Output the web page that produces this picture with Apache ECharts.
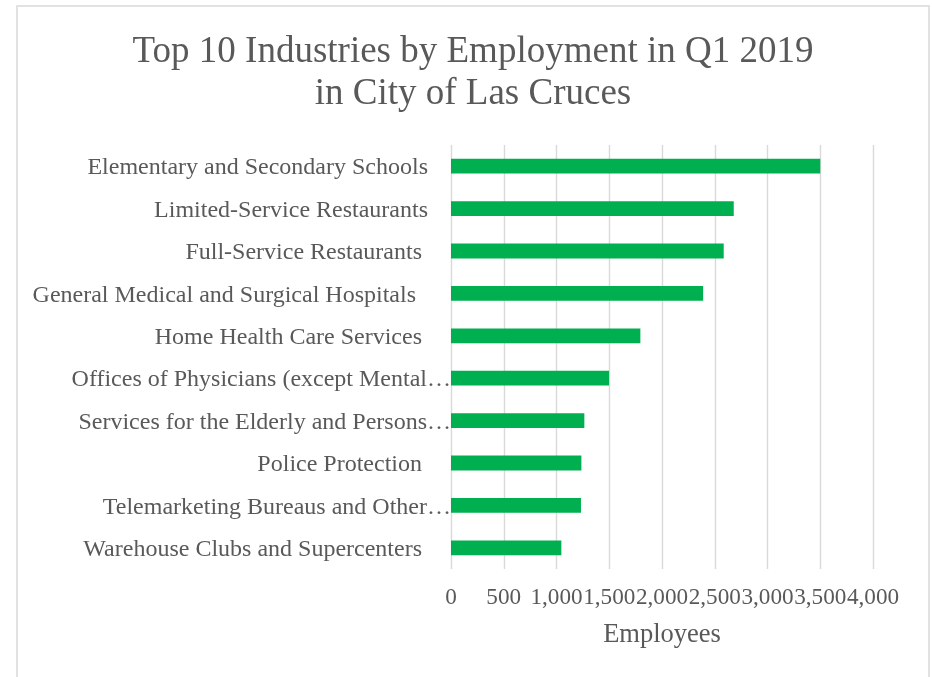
<!DOCTYPE html>
<html>
<head>
<meta charset="utf-8">
<script src="https://cdn.jsdelivr.net/npm/echarts@6/dist/echarts.min.js"></script>
<style>html,body{margin:0;padding:0;background:#fff}#c{width:932px;height:677px}</style>
</head>
<body>
<div id="c"></div>
<script>
const titleLines = ['Top 10 Industries by Employment in Q1 2019', 'in City of Las Cruces'];
const categories = [
  'Elementary and Secondary Schools',
  'Limited-Service Restaurants',
  'Full-Service Restaurants ',
  'General Medical and Surgical Hospitals  ',
  'Home Health Care Services ',
  'Offices of Physicians (except Mental\u2026',
  'Services for the Elderly and Persons\u2026',
  'Police Protection ',
  'Telemarketing Bureaus and Other\u2026',
  'Warehouse Clubs and Supercenters '
];
const employees = [3500, 2680, 2585, 2390, 1795, 1498, 1264, 1236, 1232, 1046];
const xTicks = [0, 500, 1000, 1500, 2000, 2500, 3000, 3500, 4000];
const xAxisName = 'Employees';

const chart = echarts.init(document.getElementById('c'));
const FONT = '"Liberation Serif", "Times New Roman", serif';
const TXT = '#595959';
chart.setOption({
  animation: false,
  backgroundColor: '#fff',
  graphic: [
    { type: 'rect', shape: { x: 17, y: 6, width: 912, height: 720 }, style: { fill: 'none', stroke: '#D9D9D9', lineWidth: 1.5 }, silent: true },
    { type: 'text', x: 473, y: 52, style: { text: titleLines[0], font: '37px ' + FONT, fill: TXT, textAlign: 'center', textVerticalAlign: 'middle' } },
    { type: 'text', x: 473, y: 94, style: { text: titleLines[1], font: '37px ' + FONT, fill: TXT, textAlign: 'center', textVerticalAlign: 'middle' } }
  ],
  grid: { left: 451, right: 59, top: 145, bottom: 108 },
  xAxis: {
    type: 'value',
    min: xTicks[0],
    max: xTicks[xTicks.length - 1],
    interval: xTicks[1] - xTicks[0],
    name: xAxisName,
    nameLocation: 'middle',
    nameGap: 53,
    nameTextStyle: { fontFamily: FONT, fontSize: 26.5, color: TXT },
    axisLine: { show: false },
    axisTick: { show: false },
    axisLabel: {
      fontFamily: FONT, fontSize: 23.2, color: TXT, margin: 17,
      showMinLabel: true, showMaxLabel: true, hideOverlap: false,
      formatter: v => v.toLocaleString('en-US')
    },
    splitLine: { show: true, lineStyle: { color: '#D9D9D9', width: 1.4 } }
  },
  yAxis: {
    type: 'category',
    data: categories,
    inverse: true,
    axisLine: { show: false },
    axisTick: { show: false },
    axisLabel: {
      margin: 0,
      formatter: v => (v.endsWith('\u2026') ? '{t|' + v + '}' : '{n|' + v + '}'),
      rich: {
        n: { fontFamily: FONT, fontSize: 24, color: TXT, padding: [4, 23, 0, 0] },
        t: { fontFamily: FONT, fontSize: 24, color: TXT, padding: [4, 0, 0, 0] }
      }
    }
  },
  series: [{
    type: 'bar',
    data: employees,
    barCategoryGap: '65%',
    itemStyle: { color: '#00B050' }
  }]
});
</script>
</body>
</html>
